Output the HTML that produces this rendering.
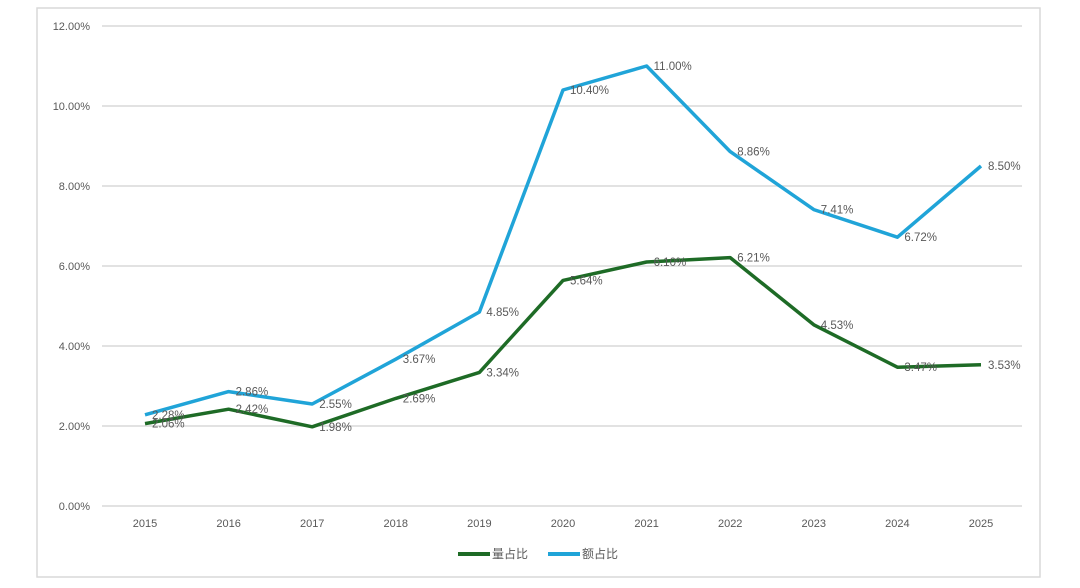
<!DOCTYPE html>
<html><head><meta charset="utf-8"><style>
body{margin:0;background:#fff;}
svg text{font-family:"Liberation Sans","Noto Sans CJK SC",sans-serif;}
</style></head><body>
<svg id="chart" width="1080" height="583" xmlns="http://www.w3.org/2000/svg">
<rect x="37" y="8" width="1003" height="569" fill="#fff" stroke="#d9d9d9" stroke-width="1.5"/>
<g id="grid"></g><g id="lines"></g><g id="labels"></g>
<g>
<line x1="458" y1="554" x2="490" y2="554" stroke="#1e6b26" stroke-width="4"/>
<text x="492" y="558" font-size="12" fill="#595959">量占比</text>
<line x1="548" y1="554" x2="580" y2="554" stroke="#20a4d8" stroke-width="4"/>
<text x="582" y="558" font-size="12" fill="#595959">额占比</text>
</g>
</svg>
<script>
const years=["2015","2016","2017","2018","2019","2020","2021","2022","2023","2024","2025"];
const qtyShare=[2.06,2.42,1.98,2.69,3.34,5.64,6.10,6.21,4.53,3.47,3.53];
const valueShare=[2.28,2.86,2.55,3.67,4.85,10.40,11.00,8.86,7.41,6.72,8.50];
const yTicks=[0,2,4,6,8,10,12];
const NS="http://www.w3.org/2000/svg";
const xS=i=>145+i*83.6;
const yS=v=>506-v*40;
function mk(tag,attrs,parent,txt){const e=document.createElementNS(NS,tag);for(const k in attrs)e.setAttribute(k,attrs[k]);if(txt!==undefined)e.textContent=txt;document.getElementById(parent).appendChild(e);return e;}
yTicks.forEach(t=>{
 const l=mk('line',{x1:102,x2:1022,y1:yS(t),y2:yS(t),stroke:'#d9d9d9','stroke-width':1.5},'grid');
 
 
 const tx=mk('text',{x:90,y:yS(t)+4,'font-size':11,fill:'#595959','text-anchor':'end'},'grid',t.toFixed(2)+'%');
 
 
});
years.forEach((y,i)=>{
 const tx=mk('text',{x:xS(i),y:527,'font-size':11,fill:'#595959','text-anchor':'middle'},'grid',y);
 
 
});
function series(vals,color,name){
 const p=mk('polyline',{points:vals.map((v,i)=>xS(i)+','+yS(v)).join(' '),fill:'none',stroke:color,'stroke-width':3.5,'stroke-linejoin':'round'},'lines');
 
 
 vals.forEach((v,i)=>{
  const t=mk('text',{x:xS(i)+7,y:yS(v)+4,'font-size':11.5,fill:'#595959'},'labels',v.toFixed(2)+'%');
  
  
 });
}
series(valueShare,'#20a4d8','value-share');
series(qtyShare,'#1e6b26','qty-share');
</script>
</body></html>
